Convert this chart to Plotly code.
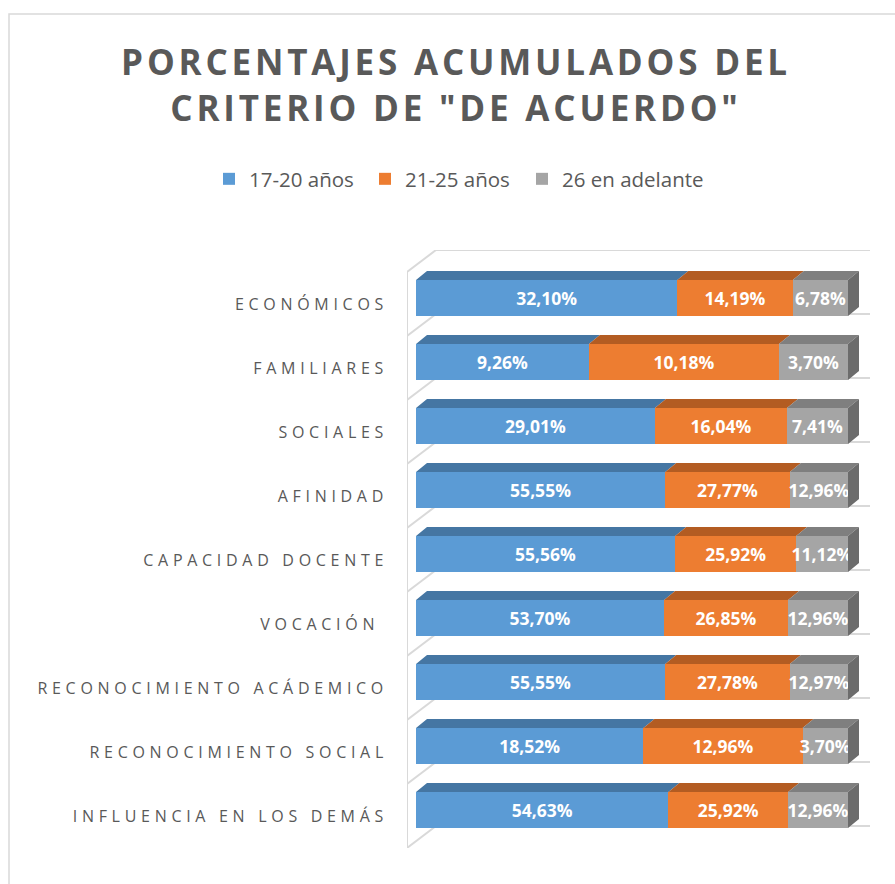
import plotly.graph_objects as go

# ---------------- data ----------------
categories = ["ECONÓMICOS", "FAMILIARES", "SOCIALES", "AFINIDAD", "CAPACIDAD DOCENTE",
              "VOCACIÓN ", "RECONOCIMIENTO ACÁDEMICO", "RECONOCIMIENTO SOCIAL",
              "INFLUENCIA EN LOS DEMÁS"]
series_names = ["17-20 años", "21-25 años", "26 en adelante"]
vals_17_20 = [32.10, 9.26, 29.01, 55.55, 55.56, 53.70, 55.55, 18.52, 54.63]
vals_21_25 = [14.19, 10.18, 16.04, 27.77, 25.92, 26.85, 27.78, 12.96, 25.92]
vals_26_mas = [6.78, 3.70, 7.41, 12.96, 11.12, 12.96, 12.97, 3.70, 12.96]

series_vals = [vals_17_20, vals_21_25, vals_26_mas]
front_colors = ["#5B9BD5", "#ED7D31", "#A5A5A5"]
top_colors = ["#4576A3", "#B35C22", "#7F7F7F"]
side_color = "#6C6C6C"

# ---------------- geometry (pixels -> data) ----------------
W, H = 895, 884
L, R, T, B = 407, 25, 250, 36
plot_w = W - L - R
plot_h = H - T - B
px_per_x = 432 / 100.0          # bar full width = 100 %
px_per_y = 64.0                 # category band height
X_MIN = -(416 - L) / px_per_x
X_MAX = X_MIN + plot_w / px_per_x
WALL_DX = 29 / px_per_x
WALL_DY = -22 / px_per_y
BAR_DX = 11 / px_per_x
BAR_DY = -9 / px_per_y
BAR_OFF = -24 / px_per_y
BAR_W = 36 / px_per_y
Y_BOTTOM = len(categories) - 0.5
Y_TOP = -0.5 + WALL_DY

ypos = list(range(len(categories)))
totals = [sum(s[i] for s in series_vals) for i in range(len(categories))]
shares = [[s[i] / totals[i] * 100 for i in range(len(categories))] for s in series_vals]


def fmt(v):
    return f"{v:.2f}".replace(".", ",") + "%"


def pxx(p):
    return (p - L) / plot_w


def pxy(p):
    return (H - B - p) / plot_h


legend_ids = ["legend", "legend2", "legend3"]
legend_square_px = [222, 378, 535]

fig = go.Figure()

# front faces (real bars)
for k, name in enumerate(series_names):
    fig.add_trace(go.Bar(
        y=ypos, x=shares[k], orientation="h", name=name,
        offset=BAR_OFF, width=BAR_W,
        marker=dict(color=front_colors[k], line=dict(width=0)),
        text=[fmt(v) for v in series_vals[k]],
        textposition="inside", insidetextanchor="middle", textangle=0,
        constraintext="none", cliponaxis=False,
        textfont=dict(family="Open Sans", size=17.5, color="white", weight="bold"),
        hoverinfo="skip", legend=legend_ids[k],
    ))

# top faces (3D effect)
cum = [0.0] * len(categories)
for k in range(len(series_names)):
    xs, ys = [], []
    for i in range(len(categories)):
        x0 = cum[i]
        x1 = cum[i] + shares[k][i]
        yt = ypos[i] + BAR_OFF
        xs += [x0, x1, x1 + BAR_DX, x0 + BAR_DX, x0, None]
        ys += [yt, yt, yt + BAR_DY, yt + BAR_DY, yt, None]
        cum[i] = x1
    fig.add_trace(go.Scatter(x=xs, y=ys, mode="lines", fill="toself",
                             fillcolor=top_colors[k], line=dict(width=0, color=top_colors[k]),
                             showlegend=False, hoverinfo="skip"))

# right side faces
xs, ys = [], []
for i in range(len(categories)):
    yt = ypos[i] + BAR_OFF
    yb = yt + BAR_W
    xe = cum[i]
    xs += [xe, xe + BAR_DX, xe + BAR_DX, xe, xe, None]
    ys += [yt, yt + BAR_DY, yb + BAR_DY, yb, yt, None]
fig.add_trace(go.Scatter(x=xs, y=ys, mode="lines", fill="toself",
                         fillcolor=side_color, line=dict(width=0, color=side_color),
                         showlegend=False, hoverinfo="skip"))

# walls / gridlines
wall_col = "#D9D9D9"
shapes = []
shapes.append(dict(type="line", xref="x", yref="y", x0=X_MIN, x1=X_MIN,
                   y0=-0.5, y1=Y_BOTTOM, line=dict(color=wall_col, width=2), layer="below"))
for kb in range(len(categories) + 1):
    b = -0.5 + kb
    shapes.append(dict(type="line", xref="x", yref="y", x0=X_MIN, x1=X_MIN + WALL_DX,
                       y0=b, y1=b + WALL_DY, line=dict(color=wall_col, width=2), layer="below"))
    shapes.append(dict(type="line", xref="x", yref="y", x0=X_MIN + WALL_DX, x1=X_MAX,
                       y0=b + WALL_DY, y1=b + WALL_DY, line=dict(color=wall_col, width=2),
                       layer="below"))

# outer chart border
shapes.append(dict(type="rect", xref="paper", yref="paper", x0=pxx(9), x1=pxx(910),
                   y0=pxy(900), y1=pxy(14), line=dict(color="#D9D9D9", width=1.5),
                   fillcolor="rgba(0,0,0,0)", layer="below"))

legend_layout = {}
for k, lid in enumerate(legend_ids):
    legend_layout[lid] = dict(
        orientation="h", xref="paper", yref="paper",
        x=pxx(legend_square_px[k] - 13), xanchor="left", y=pxy(159), yanchor="top",
        font=dict(family="Open Sans", size=20.5, color="#595959"),
        itemwidth=30, bgcolor="rgba(0,0,0,0)",
        itemclick=False, itemdoubleclick=False)

fig.update_layout(
    width=W, height=H,
    margin=dict(l=L, r=R, t=T, b=B, autoexpand=False),
    paper_bgcolor="white", plot_bgcolor="white",
    barmode="stack",
    shapes=shapes,
    showlegend=True,
    title=dict(text='PORCENTAJES ACUMULADOS DEL<br>CRITERIO DE "DE ACUERDO"',
               x=456 / W, xref="container", xanchor="center",
               y=1 - 75 / H, yref="container", yanchor="top",
               font=dict(family="Open Sans", size=35, color="#595959", weight="bold")),
    xaxis=dict(range=[X_MIN, X_MAX], visible=False, fixedrange=True),
    yaxis=dict(range=[Y_BOTTOM, Y_TOP], tickmode="array", tickvals=ypos, ticktext=categories,
               showgrid=False, zeroline=False, showline=False, ticks="",
               ticklabelstandoff=18, fixedrange=True,
               tickfont=dict(family="Open Sans", size=16, color="#595959")),
    font=dict(family="Open Sans", color="#595959"),
    **legend_layout,
)

post = """
document.body.style.margin='0';
document.body.style.padding='0';
var s=document.createElement('style');
s.innerHTML='body{margin:0 !important;} .gtitle{letter-spacing:3.8px;} .ytick text{letter-spacing:4.7px;}';
document.head.appendChild(s);
"""
fig.write_html("out.html", post_script=post, config={"displayModeBar": False})
